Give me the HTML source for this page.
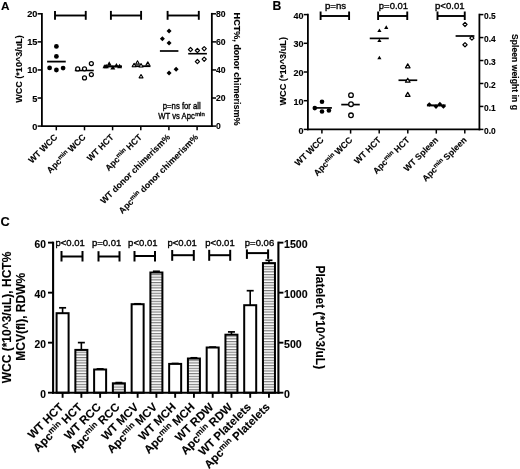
<!DOCTYPE html>
<html><head><meta charset="utf-8"><style>
html,body{margin:0;padding:0;background:#fff;overflow:hidden}
svg{display:block;filter:grayscale(1)}
text{font-family:"Liberation Sans",sans-serif;fill:#000;stroke:#000;stroke-width:0.12px}
text[font-weight="normal"]{stroke-width:0.35px}
</style></head><body>
<svg width="520" height="469" viewBox="0 0 520 469">
<rect width="520" height="469" fill="#fff"/>
<text x="1.00" y="9.80" font-size="11.8" font-weight="bold" text-anchor="start">A</text>
<line x1="41.90" y1="12.90" x2="41.90" y2="127.00" stroke="#000" stroke-width="1.8"/>
<line x1="41.00" y1="126.10" x2="212.75" y2="126.10" stroke="#000" stroke-width="1.8"/>
<line x1="211.85" y1="12.90" x2="211.85" y2="127.00" stroke="#000" stroke-width="1.8"/>
<line x1="37.60" y1="126.10" x2="41.90" y2="126.10" stroke="#000" stroke-width="1.5"/>
<text x="37.40" y="129.60" font-size="9.2" font-weight="bold" text-anchor="end">0</text>
<line x1="37.60" y1="98.02" x2="41.90" y2="98.02" stroke="#000" stroke-width="1.5"/>
<text x="37.40" y="101.52" font-size="9.2" font-weight="bold" text-anchor="end">5</text>
<line x1="37.60" y1="69.95" x2="41.90" y2="69.95" stroke="#000" stroke-width="1.5"/>
<text x="37.40" y="73.45" font-size="9.2" font-weight="bold" text-anchor="end">10</text>
<line x1="37.60" y1="41.88" x2="41.90" y2="41.88" stroke="#000" stroke-width="1.5"/>
<text x="37.40" y="45.38" font-size="9.2" font-weight="bold" text-anchor="end">15</text>
<line x1="37.60" y1="13.80" x2="41.90" y2="13.80" stroke="#000" stroke-width="1.5"/>
<text x="37.40" y="17.30" font-size="9.2" font-weight="bold" text-anchor="end">20</text>
<line x1="211.85" y1="126.10" x2="216.05" y2="126.10" stroke="#000" stroke-width="1.5"/>
<text x="215.90" y="129.20" font-size="8.6" font-weight="bold" text-anchor="start">0</text>
<line x1="211.85" y1="98.02" x2="216.05" y2="98.02" stroke="#000" stroke-width="1.5"/>
<text x="215.90" y="101.12" font-size="8.6" font-weight="bold" text-anchor="start">20</text>
<line x1="211.85" y1="69.95" x2="216.05" y2="69.95" stroke="#000" stroke-width="1.5"/>
<text x="215.90" y="73.05" font-size="8.6" font-weight="bold" text-anchor="start">40</text>
<line x1="211.85" y1="41.88" x2="216.05" y2="41.88" stroke="#000" stroke-width="1.5"/>
<text x="215.90" y="44.98" font-size="8.6" font-weight="bold" text-anchor="start">60</text>
<line x1="211.85" y1="13.80" x2="216.05" y2="13.80" stroke="#000" stroke-width="1.5"/>
<text x="215.90" y="16.90" font-size="8.6" font-weight="bold" text-anchor="start">80</text>
<text transform="translate(21.60,69.00) rotate(-90)" font-size="9.05" font-weight="bold" text-anchor="middle" textLength="67.7" lengthAdjust="spacingAndGlyphs">WCC (*10^3/uL)</text>
<text transform="translate(233.60,69.10) rotate(90)" font-size="9.0" font-weight="bold" text-anchor="middle" textLength="113" lengthAdjust="spacingAndGlyphs">HCT%, donor chimerism%</text>
<line x1="56.30" y1="126.10" x2="56.30" y2="130.30" stroke="#000" stroke-width="1.5"/>
<line x1="84.50" y1="126.10" x2="84.50" y2="130.30" stroke="#000" stroke-width="1.5"/>
<line x1="112.60" y1="126.10" x2="112.60" y2="130.30" stroke="#000" stroke-width="1.5"/>
<line x1="140.80" y1="126.10" x2="140.80" y2="130.30" stroke="#000" stroke-width="1.5"/>
<line x1="168.90" y1="126.10" x2="168.90" y2="130.30" stroke="#000" stroke-width="1.5"/>
<line x1="197.10" y1="126.10" x2="197.10" y2="130.30" stroke="#000" stroke-width="1.5"/>
<line x1="55.00" y1="15.50" x2="85.75" y2="15.50" stroke="#000" stroke-width="1.9"/>
<line x1="55.00" y1="10.90" x2="55.00" y2="19.80" stroke="#000" stroke-width="1.9"/>
<line x1="85.75" y1="10.90" x2="85.75" y2="19.80" stroke="#000" stroke-width="1.9"/>
<line x1="110.90" y1="15.50" x2="141.10" y2="15.50" stroke="#000" stroke-width="1.9"/>
<line x1="110.90" y1="10.90" x2="110.90" y2="19.80" stroke="#000" stroke-width="1.9"/>
<line x1="141.10" y1="10.90" x2="141.10" y2="19.80" stroke="#000" stroke-width="1.9"/>
<line x1="167.60" y1="15.50" x2="198.80" y2="15.50" stroke="#000" stroke-width="1.9"/>
<line x1="167.60" y1="10.90" x2="167.60" y2="19.80" stroke="#000" stroke-width="1.9"/>
<line x1="198.80" y1="10.90" x2="198.80" y2="19.80" stroke="#000" stroke-width="1.9"/>
<circle cx="56.40" cy="46.40" r="2.4" fill="#000"/>
<circle cx="56.40" cy="56.40" r="2.4" fill="#000"/>
<circle cx="49.60" cy="67.90" r="2.4" fill="#000"/>
<circle cx="56.40" cy="70.00" r="2.4" fill="#000"/>
<circle cx="63.10" cy="68.10" r="2.4" fill="#000"/>
<line x1="47.10" y1="61.60" x2="65.75" y2="61.60" stroke="#000" stroke-width="1.8"/>
<line x1="74.80" y1="70.50" x2="93.75" y2="70.50" stroke="#000" stroke-width="1.6"/>
<circle cx="77.70" cy="68.90" r="2.0" fill="#fff" stroke="#000" stroke-width="1.25"/>
<circle cx="84.50" cy="68.85" r="2.0" fill="#fff" stroke="#000" stroke-width="1.25"/>
<circle cx="91.35" cy="63.60" r="2.0" fill="#fff" stroke="#000" stroke-width="1.25"/>
<circle cx="84.50" cy="77.90" r="2.0" fill="#fff" stroke="#000" stroke-width="1.25"/>
<circle cx="91.35" cy="74.50" r="2.0" fill="#fff" stroke="#000" stroke-width="1.25"/>
<line x1="103.60" y1="66.40" x2="122.00" y2="66.40" stroke="#000" stroke-width="2.0"/>
<polygon points="105.00,63.90 102.50,68.23 107.50,68.23" fill="#000"/>
<polygon points="106.40,64.00 103.90,68.33 108.90,68.33" fill="#000"/>
<polygon points="109.20,61.30 106.70,65.63 111.70,65.63" fill="#000"/>
<polygon points="112.80,65.20 110.30,69.53 115.30,69.53" fill="#000"/>
<polygon points="116.40,62.90 113.90,67.23 118.90,67.23" fill="#000"/>
<polygon points="119.60,63.80 117.10,68.13 122.10,68.13" fill="#000"/>
<line x1="132.00" y1="66.20" x2="150.50" y2="66.20" stroke="#000" stroke-width="1.8"/>
<polygon points="134.10,63.37 132.15,66.75 136.05,66.75" fill="#fff" stroke="#000" stroke-width="1.1" stroke-linejoin="round"/>
<polygon points="137.50,60.77 135.55,64.15 139.45,64.15" fill="#fff" stroke="#000" stroke-width="1.1" stroke-linejoin="round"/>
<polygon points="141.05,63.57 139.10,66.95 143.00,66.95" fill="#fff" stroke="#000" stroke-width="1.1" stroke-linejoin="round"/>
<polygon points="147.80,61.87 145.85,65.25 149.75,65.25" fill="#fff" stroke="#000" stroke-width="1.1" stroke-linejoin="round"/>
<polygon points="141.05,74.47 139.10,77.85 143.00,77.85" fill="#fff" stroke="#000" stroke-width="1.1" stroke-linejoin="round"/>
<polygon points="169.06,28.60 171.56,31.10 169.06,33.60 166.56,31.10" fill="#000"/>
<polygon points="162.40,36.30 164.90,38.80 162.40,41.30 159.90,38.80" fill="#000"/>
<polygon points="169.06,40.40 171.56,42.90 169.06,45.40 166.56,42.90" fill="#000"/>
<polygon points="169.06,70.50 171.56,73.00 169.06,75.50 166.56,73.00" fill="#000"/>
<polygon points="176.10,66.70 178.60,69.20 176.10,71.70 173.60,69.20" fill="#000"/>
<line x1="159.90" y1="51.00" x2="178.40" y2="51.00" stroke="#000" stroke-width="1.7"/>
<line x1="188.20" y1="53.70" x2="206.90" y2="53.70" stroke="#000" stroke-width="1.6"/>
<polygon points="190.50,47.50 192.60,49.60 190.50,51.70 188.40,49.60" fill="#fff" stroke="#000" stroke-width="1.2" stroke-linejoin="round"/>
<polygon points="197.40,48.40 199.50,50.50 197.40,52.60 195.30,50.50" fill="#fff" stroke="#000" stroke-width="1.2" stroke-linejoin="round"/>
<polygon points="204.20,46.60 206.30,48.70 204.20,50.80 202.10,48.70" fill="#fff" stroke="#000" stroke-width="1.2" stroke-linejoin="round"/>
<polygon points="197.40,59.50 199.50,61.60 197.40,63.70 195.30,61.60" fill="#fff" stroke="#000" stroke-width="1.2" stroke-linejoin="round"/>
<polygon points="204.20,57.10 206.30,59.20 204.20,61.30 202.10,59.20" fill="#fff" stroke="#000" stroke-width="1.2" stroke-linejoin="round"/>
<text x="181.80" y="109.30" font-size="8.6" font-weight="normal" text-anchor="middle" textLength="38" lengthAdjust="spacingAndGlyphs">p=ns for all</text>
<text x="158.3" y="118.8" font-size="8.6" font-weight="normal" textLength="36.5" lengthAdjust="spacingAndGlyphs">WT vs Apc</text><text x="195.2" y="115.6" font-size="6" font-weight="normal" textLength="9.5" lengthAdjust="spacingAndGlyphs">min</text>
<text transform="translate(58.00,137.80) rotate(-45)" font-size="8.7" font-weight="bold" text-anchor="end">WT WCC</text>
<text transform="translate(86.20,137.80) rotate(-45)" font-size="8.7" font-weight="bold" text-anchor="end">Apc<tspan font-size="6.26" dy="-2.78">min</tspan><tspan dy="2.78"> WCC</tspan></text>
<text transform="translate(114.30,137.80) rotate(-45)" font-size="8.7" font-weight="bold" text-anchor="end">WT HCT</text>
<text transform="translate(142.50,137.80) rotate(-45)" font-size="8.7" font-weight="bold" text-anchor="end">Apc<tspan font-size="6.26" dy="-2.78">min</tspan><tspan dy="2.78"> HCT</tspan></text>
<text transform="translate(170.60,137.80) rotate(-45)" font-size="8.7" font-weight="bold" text-anchor="end">WT donor chimerism%</text>
<text transform="translate(198.80,137.80) rotate(-45)" font-size="8.7" font-weight="bold" text-anchor="end">Apc<tspan font-size="6.26" dy="-2.78">min</tspan><tspan dy="2.78"> donor chimerism%</tspan></text>
<text x="272.50" y="9.60" font-size="12.2" font-weight="bold" text-anchor="start">B</text>
<line x1="307.90" y1="13.70" x2="307.90" y2="130.30" stroke="#000" stroke-width="1.8"/>
<line x1="307.00" y1="129.40" x2="480.30" y2="129.40" stroke="#000" stroke-width="1.8"/>
<line x1="479.40" y1="13.70" x2="479.40" y2="130.30" stroke="#000" stroke-width="1.8"/>
<line x1="303.70" y1="129.40" x2="307.90" y2="129.40" stroke="#000" stroke-width="1.5"/>
<text x="303.40" y="133.50" font-size="9.0" font-weight="bold" text-anchor="end">0</text>
<line x1="303.70" y1="100.70" x2="307.90" y2="100.70" stroke="#000" stroke-width="1.5"/>
<text x="303.40" y="104.80" font-size="9.0" font-weight="bold" text-anchor="end">10</text>
<line x1="303.70" y1="72.00" x2="307.90" y2="72.00" stroke="#000" stroke-width="1.5"/>
<text x="303.40" y="76.10" font-size="9.0" font-weight="bold" text-anchor="end">20</text>
<line x1="303.70" y1="43.30" x2="307.90" y2="43.30" stroke="#000" stroke-width="1.5"/>
<text x="303.40" y="47.40" font-size="9.0" font-weight="bold" text-anchor="end">30</text>
<line x1="303.70" y1="14.60" x2="307.90" y2="14.60" stroke="#000" stroke-width="1.5"/>
<text x="303.40" y="18.70" font-size="9.0" font-weight="bold" text-anchor="end">40</text>
<line x1="479.40" y1="129.40" x2="483.40" y2="129.40" stroke="#000" stroke-width="1.5"/>
<text x="484.00" y="133.50" font-size="8.4" font-weight="bold" text-anchor="start">0.0</text>
<line x1="479.40" y1="106.44" x2="483.40" y2="106.44" stroke="#000" stroke-width="1.5"/>
<text x="484.00" y="110.54" font-size="8.4" font-weight="bold" text-anchor="start">0.1</text>
<line x1="479.40" y1="83.48" x2="483.40" y2="83.48" stroke="#000" stroke-width="1.5"/>
<text x="484.00" y="87.58" font-size="8.4" font-weight="bold" text-anchor="start">0.2</text>
<line x1="479.40" y1="60.52" x2="483.40" y2="60.52" stroke="#000" stroke-width="1.5"/>
<text x="484.00" y="64.62" font-size="8.4" font-weight="bold" text-anchor="start">0.3</text>
<line x1="479.40" y1="37.56" x2="483.40" y2="37.56" stroke="#000" stroke-width="1.5"/>
<text x="484.00" y="41.66" font-size="8.4" font-weight="bold" text-anchor="start">0.4</text>
<line x1="479.40" y1="14.60" x2="483.40" y2="14.60" stroke="#000" stroke-width="1.5"/>
<text x="484.00" y="18.70" font-size="8.4" font-weight="bold" text-anchor="start">0.5</text>
<text transform="translate(286.40,71.30) rotate(-90)" font-size="9.2" font-weight="bold" text-anchor="middle" textLength="68.6" lengthAdjust="spacingAndGlyphs">WCC (*10^3/uL)</text>
<text transform="translate(512.10,72.00) rotate(90)" font-size="8.7" font-weight="bold" text-anchor="middle" textLength="76.1" lengthAdjust="spacingAndGlyphs">Spleen weight in g</text>
<line x1="321.90" y1="129.40" x2="321.90" y2="133.60" stroke="#000" stroke-width="1.5"/>
<line x1="350.60" y1="129.40" x2="350.60" y2="133.60" stroke="#000" stroke-width="1.5"/>
<line x1="379.20" y1="129.40" x2="379.20" y2="133.60" stroke="#000" stroke-width="1.5"/>
<line x1="407.80" y1="129.40" x2="407.80" y2="133.60" stroke="#000" stroke-width="1.5"/>
<line x1="436.30" y1="129.40" x2="436.30" y2="133.60" stroke="#000" stroke-width="1.5"/>
<line x1="464.80" y1="129.40" x2="464.80" y2="133.60" stroke="#000" stroke-width="1.5"/>
<line x1="320.60" y1="16.00" x2="349.10" y2="16.00" stroke="#000" stroke-width="1.9"/>
<line x1="320.60" y1="11.50" x2="320.60" y2="20.00" stroke="#000" stroke-width="1.9"/>
<line x1="349.10" y1="11.50" x2="349.10" y2="20.00" stroke="#000" stroke-width="1.9"/>
<text x="335.60" y="8.75" font-size="9.4" font-weight="normal" text-anchor="middle" textLength="21.2" lengthAdjust="spacingAndGlyphs">p=ns</text>
<line x1="378.10" y1="16.00" x2="407.25" y2="16.00" stroke="#000" stroke-width="1.9"/>
<line x1="378.10" y1="11.50" x2="378.10" y2="20.00" stroke="#000" stroke-width="1.9"/>
<line x1="407.25" y1="11.50" x2="407.25" y2="20.00" stroke="#000" stroke-width="1.9"/>
<text x="393.45" y="8.75" font-size="9.4" font-weight="normal" text-anchor="middle" textLength="29.2" lengthAdjust="spacingAndGlyphs">p=0.01</text>
<line x1="437.50" y1="16.00" x2="464.75" y2="16.00" stroke="#000" stroke-width="1.9"/>
<line x1="437.50" y1="11.50" x2="437.50" y2="20.00" stroke="#000" stroke-width="1.9"/>
<line x1="464.75" y1="11.50" x2="464.75" y2="20.00" stroke="#000" stroke-width="1.9"/>
<text x="449.80" y="8.75" font-size="9.4" font-weight="normal" text-anchor="middle" textLength="29.5" lengthAdjust="spacingAndGlyphs">p&lt;0.01</text>
<line x1="313.75" y1="107.90" x2="331.90" y2="107.90" stroke="#000" stroke-width="1.7"/>
<circle cx="322.00" cy="101.70" r="2.3" fill="#000"/>
<circle cx="314.80" cy="108.10" r="2.3" fill="#000"/>
<circle cx="322.00" cy="111.50" r="2.3" fill="#000"/>
<circle cx="328.90" cy="110.50" r="2.3" fill="#000"/>
<line x1="341.25" y1="104.60" x2="359.75" y2="104.60" stroke="#000" stroke-width="1.7"/>
<circle cx="351.00" cy="95.15" r="2.3" fill="#fff" stroke="#000" stroke-width="1.3"/>
<circle cx="351.00" cy="104.20" r="2.3" fill="#fff" stroke="#000" stroke-width="1.3"/>
<circle cx="351.00" cy="115.30" r="2.3" fill="#fff" stroke="#000" stroke-width="1.3"/>
<line x1="369.75" y1="38.40" x2="388.75" y2="38.40" stroke="#000" stroke-width="1.7"/>
<polygon points="379.40,28.42 377.30,32.05 381.50,32.05" fill="#000"/>
<polygon points="386.25,25.32 384.15,28.95 388.35,28.95" fill="#000"/>
<polygon points="379.40,38.42 377.30,42.05 381.50,42.05" fill="#000"/>
<polygon points="379.40,55.72 377.30,59.35 381.50,59.35" fill="#000"/>
<line x1="398.50" y1="80.25" x2="417.25" y2="80.25" stroke="#000" stroke-width="1.7"/>
<polygon points="407.75,63.86 405.45,67.84 410.05,67.84" fill="#fff" stroke="#000" stroke-width="1.2" stroke-linejoin="round"/>
<polygon points="407.75,78.21 405.45,82.19 410.05,82.19" fill="#fff" stroke="#000" stroke-width="1.2" stroke-linejoin="round"/>
<polygon points="407.75,92.36 405.45,96.34 410.05,96.34" fill="#fff" stroke="#000" stroke-width="1.2" stroke-linejoin="round"/>
<line x1="426.90" y1="105.40" x2="445.60" y2="105.40" stroke="#000" stroke-width="2.0"/>
<polygon points="429.30,102.15 431.65,104.50 429.30,106.85 426.95,104.50" fill="#000"/>
<polygon points="436.00,104.25 438.35,106.60 436.00,108.95 433.65,106.60" fill="#000"/>
<polygon points="439.90,101.85 442.25,104.20 439.90,106.55 437.55,104.20" fill="#000"/>
<polygon points="443.40,104.15 445.75,106.50 443.40,108.85 441.05,106.50" fill="#000"/>
<line x1="455.60" y1="36.00" x2="474.40" y2="36.00" stroke="#000" stroke-width="1.7"/>
<polygon points="465.00,22.30 467.10,24.40 465.00,26.50 462.90,24.40" fill="#fff" stroke="#000" stroke-width="1.2" stroke-linejoin="round"/>
<polygon points="471.90,36.00 474.00,38.10 471.90,40.20 469.80,38.10" fill="#fff" stroke="#000" stroke-width="1.2" stroke-linejoin="round"/>
<polygon points="465.00,42.65 467.10,44.75 465.00,46.85 462.90,44.75" fill="#fff" stroke="#000" stroke-width="1.2" stroke-linejoin="round"/>
<text transform="translate(324.30,140.60) rotate(-45)" font-size="8.7" font-weight="bold" text-anchor="end">WT WCC</text>
<text transform="translate(353.00,140.60) rotate(-45)" font-size="8.7" font-weight="bold" text-anchor="end">Apc<tspan font-size="6.26" dy="-2.78">min</tspan><tspan dy="2.78"> WCC</tspan></text>
<text transform="translate(381.60,140.60) rotate(-45)" font-size="8.7" font-weight="bold" text-anchor="end">WT HCT</text>
<text transform="translate(410.20,140.60) rotate(-45)" font-size="8.7" font-weight="bold" text-anchor="end">Apc<tspan font-size="6.26" dy="-2.78">min</tspan><tspan dy="2.78"> HCT</tspan></text>
<text transform="translate(438.70,140.60) rotate(-45)" font-size="8.7" font-weight="bold" text-anchor="end">WT Spleen</text>
<text transform="translate(467.20,140.60) rotate(-45)" font-size="8.7" font-weight="bold" text-anchor="end">Apc<tspan font-size="6.26" dy="-2.78">min</tspan><tspan dy="2.78"> Spleen</tspan></text>
<text x="0.40" y="226.30" font-size="12.8" font-weight="bold" text-anchor="start">C</text>
<defs><pattern id="hatch" patternUnits="userSpaceOnUse" width="4" height="2.68" y="0.6"><rect width="4" height="2.68" fill="#fff"/><rect width="4" height="1.15" fill="#7a7a7a"/></pattern></defs>
<line x1="62.60" y1="307.80" x2="62.60" y2="313.20" stroke="#000" stroke-width="1.6"/>
<line x1="59.10" y1="307.80" x2="66.10" y2="307.80" stroke="#000" stroke-width="1.7"/>
<rect x="56.60" y="313.20" width="12.0" height="79.50" fill="#fff" stroke="#000" stroke-width="2.0"/>
<line x1="81.36" y1="342.60" x2="81.36" y2="349.90" stroke="#000" stroke-width="1.6"/>
<line x1="77.86" y1="342.60" x2="84.86" y2="342.60" stroke="#000" stroke-width="1.7"/>
<rect x="75.36" y="349.90" width="12.0" height="42.80" fill="url(#hatch)" stroke="#000" stroke-width="2.0"/>
<line x1="96.62" y1="368.90" x2="103.62" y2="368.90" stroke="#000" stroke-width="1.7"/>
<rect x="94.12" y="369.50" width="12.0" height="23.20" fill="#fff" stroke="#000" stroke-width="2.0"/>
<line x1="115.38" y1="382.60" x2="122.38" y2="382.60" stroke="#000" stroke-width="1.7"/>
<rect x="112.88" y="383.30" width="12.0" height="9.40" fill="url(#hatch)" stroke="#000" stroke-width="2.0"/>
<line x1="134.14" y1="303.80" x2="141.14" y2="303.80" stroke="#000" stroke-width="1.7"/>
<rect x="131.64" y="304.20" width="12.0" height="88.50" fill="#fff" stroke="#000" stroke-width="2.0"/>
<line x1="152.90" y1="271.30" x2="159.90" y2="271.30" stroke="#000" stroke-width="1.7"/>
<rect x="150.40" y="272.50" width="12.0" height="120.20" fill="url(#hatch)" stroke="#000" stroke-width="2.0"/>
<line x1="171.66" y1="363.50" x2="178.66" y2="363.50" stroke="#000" stroke-width="1.7"/>
<rect x="169.16" y="363.90" width="12.0" height="28.80" fill="#fff" stroke="#000" stroke-width="2.0"/>
<line x1="190.42" y1="357.80" x2="197.42" y2="357.80" stroke="#000" stroke-width="1.7"/>
<rect x="187.92" y="358.50" width="12.0" height="34.20" fill="url(#hatch)" stroke="#000" stroke-width="2.0"/>
<line x1="209.18" y1="347.10" x2="216.18" y2="347.10" stroke="#000" stroke-width="1.7"/>
<rect x="206.68" y="347.50" width="12.0" height="45.20" fill="#fff" stroke="#000" stroke-width="2.0"/>
<line x1="231.44" y1="331.90" x2="231.44" y2="334.70" stroke="#000" stroke-width="1.6"/>
<line x1="227.94" y1="331.90" x2="234.94" y2="331.90" stroke="#000" stroke-width="1.7"/>
<rect x="225.44" y="334.70" width="12.0" height="58.00" fill="url(#hatch)" stroke="#000" stroke-width="2.0"/>
<line x1="250.20" y1="290.70" x2="250.20" y2="305.20" stroke="#000" stroke-width="1.6"/>
<line x1="246.70" y1="290.70" x2="253.70" y2="290.70" stroke="#000" stroke-width="1.7"/>
<rect x="244.20" y="305.20" width="12.0" height="87.50" fill="#fff" stroke="#000" stroke-width="2.0"/>
<line x1="268.96" y1="260.30" x2="268.96" y2="263.10" stroke="#000" stroke-width="1.6"/>
<line x1="265.46" y1="260.30" x2="272.46" y2="260.30" stroke="#000" stroke-width="1.7"/>
<rect x="262.96" y="263.10" width="12.0" height="129.60" fill="url(#hatch)" stroke="#000" stroke-width="2.0"/>
<line x1="53.10" y1="241.65" x2="53.10" y2="393.70" stroke="#000" stroke-width="2.1"/>
<line x1="52.05" y1="392.70" x2="279.45" y2="392.70" stroke="#000" stroke-width="2.1"/>
<line x1="278.40" y1="241.65" x2="278.40" y2="393.70" stroke="#000" stroke-width="2.1"/>
<line x1="48.00" y1="392.70" x2="53.10" y2="392.70" stroke="#000" stroke-width="1.9"/>
<text x="45.90" y="397.80" font-size="10.2" font-weight="bold" text-anchor="end">0</text>
<line x1="48.00" y1="342.68" x2="53.10" y2="342.68" stroke="#000" stroke-width="1.9"/>
<text x="45.90" y="347.78" font-size="10.2" font-weight="bold" text-anchor="end">20</text>
<line x1="48.00" y1="292.67" x2="53.10" y2="292.67" stroke="#000" stroke-width="1.9"/>
<text x="45.90" y="297.77" font-size="10.2" font-weight="bold" text-anchor="end">40</text>
<line x1="48.00" y1="242.65" x2="53.10" y2="242.65" stroke="#000" stroke-width="1.9"/>
<text x="45.90" y="247.75" font-size="10.2" font-weight="bold" text-anchor="end">60</text>
<line x1="278.40" y1="392.70" x2="283.40" y2="392.70" stroke="#000" stroke-width="1.9"/>
<text x="284.00" y="397.60" font-size="10.6" font-weight="bold" text-anchor="start">0</text>
<line x1="278.40" y1="342.68" x2="283.40" y2="342.68" stroke="#000" stroke-width="1.9"/>
<text x="284.00" y="347.58" font-size="10.6" font-weight="bold" text-anchor="start">500</text>
<line x1="278.40" y1="292.67" x2="283.40" y2="292.67" stroke="#000" stroke-width="1.9"/>
<text x="284.00" y="297.57" font-size="10.6" font-weight="bold" text-anchor="start">1000</text>
<line x1="278.40" y1="242.65" x2="283.40" y2="242.65" stroke="#000" stroke-width="1.9"/>
<text x="284.00" y="247.55" font-size="10.6" font-weight="bold" text-anchor="start">1500</text>
<text transform="translate(10.80,317.50) rotate(-90)" font-size="12" font-weight="bold" text-anchor="middle">WCC (*10^3/uL), HCT%</text>
<text transform="translate(25.20,316.80) rotate(-90)" font-size="12" font-weight="bold" text-anchor="middle">MCV(fl), RDW%</text>
<text transform="translate(316.00,317.30) rotate(90)" font-size="12" font-weight="bold" text-anchor="middle">Platelet (*10^3/uL)</text>
<line x1="62.60" y1="392.70" x2="62.60" y2="397.80" stroke="#000" stroke-width="1.9"/>
<line x1="81.36" y1="392.70" x2="81.36" y2="397.80" stroke="#000" stroke-width="1.9"/>
<line x1="100.12" y1="392.70" x2="100.12" y2="397.80" stroke="#000" stroke-width="1.9"/>
<line x1="118.88" y1="392.70" x2="118.88" y2="397.80" stroke="#000" stroke-width="1.9"/>
<line x1="137.64" y1="392.70" x2="137.64" y2="397.80" stroke="#000" stroke-width="1.9"/>
<line x1="156.40" y1="392.70" x2="156.40" y2="397.80" stroke="#000" stroke-width="1.9"/>
<line x1="175.16" y1="392.70" x2="175.16" y2="397.80" stroke="#000" stroke-width="1.9"/>
<line x1="193.92" y1="392.70" x2="193.92" y2="397.80" stroke="#000" stroke-width="1.9"/>
<line x1="212.68" y1="392.70" x2="212.68" y2="397.80" stroke="#000" stroke-width="1.9"/>
<line x1="231.44" y1="392.70" x2="231.44" y2="397.80" stroke="#000" stroke-width="1.9"/>
<line x1="250.20" y1="392.70" x2="250.20" y2="397.80" stroke="#000" stroke-width="1.9"/>
<line x1="268.96" y1="392.70" x2="268.96" y2="397.80" stroke="#000" stroke-width="1.9"/>
<line x1="61.50" y1="256.50" x2="82.50" y2="256.50" stroke="#000" stroke-width="2.0"/>
<line x1="61.50" y1="251.00" x2="61.50" y2="261.50" stroke="#000" stroke-width="2.0"/>
<line x1="82.50" y1="251.00" x2="82.50" y2="261.50" stroke="#000" stroke-width="2.0"/>
<text x="70.20" y="246.40" font-size="9.6" font-weight="normal" text-anchor="middle" textLength="29.4" lengthAdjust="spacingAndGlyphs">p&lt;0.01</text>
<line x1="98.50" y1="256.50" x2="119.50" y2="256.50" stroke="#000" stroke-width="2.0"/>
<line x1="98.50" y1="251.20" x2="98.50" y2="261.50" stroke="#000" stroke-width="2.0"/>
<line x1="119.50" y1="251.20" x2="119.50" y2="261.50" stroke="#000" stroke-width="2.0"/>
<text x="106.65" y="246.40" font-size="9.6" font-weight="normal" text-anchor="middle" textLength="29.4" lengthAdjust="spacingAndGlyphs">p=0.01</text>
<line x1="134.50" y1="256.00" x2="155.00" y2="256.00" stroke="#000" stroke-width="2.0"/>
<line x1="134.50" y1="251.00" x2="134.50" y2="261.50" stroke="#000" stroke-width="2.0"/>
<line x1="155.00" y1="251.00" x2="155.00" y2="261.50" stroke="#000" stroke-width="2.0"/>
<text x="142.80" y="246.40" font-size="9.6" font-weight="normal" text-anchor="middle" textLength="29.4" lengthAdjust="spacingAndGlyphs">p&lt;0.01</text>
<line x1="172.20" y1="255.20" x2="193.80" y2="255.20" stroke="#000" stroke-width="2.0"/>
<line x1="172.20" y1="250.00" x2="172.20" y2="260.80" stroke="#000" stroke-width="2.0"/>
<line x1="193.80" y1="250.00" x2="193.80" y2="260.80" stroke="#000" stroke-width="2.0"/>
<text x="182.20" y="246.40" font-size="9.6" font-weight="normal" text-anchor="middle" textLength="29.4" lengthAdjust="spacingAndGlyphs">p&lt;0.01</text>
<line x1="209.20" y1="255.20" x2="230.20" y2="255.20" stroke="#000" stroke-width="2.0"/>
<line x1="209.20" y1="249.80" x2="209.20" y2="260.80" stroke="#000" stroke-width="2.0"/>
<line x1="230.20" y1="249.80" x2="230.20" y2="260.80" stroke="#000" stroke-width="2.0"/>
<text x="220.00" y="246.40" font-size="9.6" font-weight="normal" text-anchor="middle" textLength="29.4" lengthAdjust="spacingAndGlyphs">p&lt;0.01</text>
<line x1="246.90" y1="253.10" x2="268.10" y2="253.10" stroke="#000" stroke-width="2.0"/>
<line x1="246.90" y1="249.40" x2="246.90" y2="258.90" stroke="#000" stroke-width="2.0"/>
<line x1="268.10" y1="249.40" x2="268.10" y2="258.90" stroke="#000" stroke-width="2.0"/>
<text x="259.50" y="246.40" font-size="9.6" font-weight="normal" text-anchor="middle" textLength="29.4" lengthAdjust="spacingAndGlyphs">p=0.06</text>
<text transform="translate(64.10,407.70) rotate(-45)" font-size="11.5" font-weight="bold" text-anchor="end">WT HCT</text>
<text transform="translate(82.86,407.70) rotate(-45)" font-size="11.5" font-weight="bold" text-anchor="end">Apc<tspan font-size="8.28" dy="-3.68">min</tspan><tspan dy="3.68"> HCT</tspan></text>
<text transform="translate(101.62,407.70) rotate(-45)" font-size="11.5" font-weight="bold" text-anchor="end">WT RCC</text>
<text transform="translate(120.38,407.70) rotate(-45)" font-size="11.5" font-weight="bold" text-anchor="end">Apc<tspan font-size="8.28" dy="-3.68">min</tspan><tspan dy="3.68"> RCC</tspan></text>
<text transform="translate(139.14,407.70) rotate(-45)" font-size="11.5" font-weight="bold" text-anchor="end">WT MCV</text>
<text transform="translate(157.90,407.70) rotate(-45)" font-size="11.5" font-weight="bold" text-anchor="end">Apc<tspan font-size="8.28" dy="-3.68">min</tspan><tspan dy="3.68"> MCV</tspan></text>
<text transform="translate(176.66,407.70) rotate(-45)" font-size="11.5" font-weight="bold" text-anchor="end">WT MCH</text>
<text transform="translate(195.42,407.70) rotate(-45)" font-size="11.5" font-weight="bold" text-anchor="end">Apc<tspan font-size="8.28" dy="-3.68">min</tspan><tspan dy="3.68"> MCH</tspan></text>
<text transform="translate(214.18,407.70) rotate(-45)" font-size="11.5" font-weight="bold" text-anchor="end">WT RDW</text>
<text transform="translate(232.94,407.70) rotate(-45)" font-size="11.5" font-weight="bold" text-anchor="end">Apc<tspan font-size="8.28" dy="-3.68">min</tspan><tspan dy="3.68"> RDW</tspan></text>
<text transform="translate(251.70,407.70) rotate(-45)" font-size="11.5" font-weight="bold" text-anchor="end">WT Platelets</text>
<text transform="translate(270.46,407.70) rotate(-45)" font-size="11.5" font-weight="bold" text-anchor="end">Apc<tspan font-size="8.28" dy="-3.68">min</tspan><tspan dy="3.68"> Platelets</tspan></text>
</svg>
</body></html>
